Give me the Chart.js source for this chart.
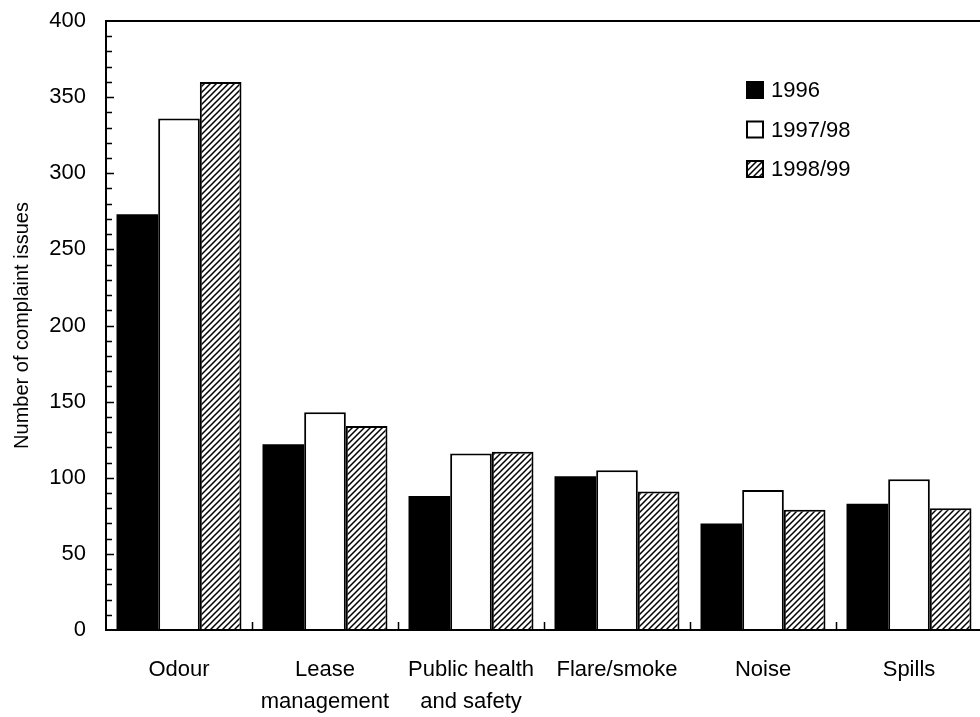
<!DOCTYPE html>
<html>
<head>
<meta charset="utf-8">
<script src="https://cdn.jsdelivr.net/npm/chart.js@4.4.1/dist/chart.umd.min.js"></script>
<style>
  html, body { margin: 0; padding: 0; background: #fff; overflow: hidden; }
  canvas { display: block; }
</style>
</head>
<body>
<canvas id="complaintChart" width="990" height="717"></canvas>
<script>
// complaint issues by type
const categories = [['Odour'], ['Lease', 'management'], ['Public health', 'and safety'], ['Flare/smoke'], ['Noise'], ['Spills']];
const seriesNames = ['1996', '1997/98', '1998/99'];
const values1996 = [273, 122, 88, 101, 70, 83];
const values1997 = [336, 143, 116, 105, 92, 99];
const values1998 = [360, 134, 117, 91, 79, 80];
const yMin = 0;
const yMax = 400;
const yLabelStep = 50;
const yMinorStep = 10;

function makeHatch() {
    const c = document.createElement('canvas');
    c.width = 6;
    c.height = 6;
    const g = c.getContext('2d');
    g.fillStyle = '#fff';
    g.fillRect(0, 0, 6, 6);
    g.strokeStyle = '#000';
    g.lineWidth = 1.5;
    g.beginPath();
    g.moveTo(0, 6); g.lineTo(6, 0);
    g.moveTo(-1, 1); g.lineTo(1, -1);
    g.moveTo(5, 7); g.lineTo(7, 5);
    g.stroke();
    return g.createPattern(c, 'repeat');
}

const hatch = makeHatch();

// box round the plot plus the inward tick marks
const framePlugin = {
    id: 'frame',
    afterDraw(chart) {
        const ctx = chart.ctx;
        const area = chart.chartArea;
        const y = chart.scales.y;
        const x = chart.scales.x;
        ctx.save();
        ctx.strokeStyle = '#000';
        ctx.lineWidth = 2;
        ctx.strokeRect(area.left, area.top, area.right - area.left, area.bottom - area.top);

        ctx.lineWidth = 1.5;
        ctx.beginPath();
        for (let v = yMin + yMinorStep; v < yMax; v += yMinorStep) {
            const py = Math.round(y.getPixelForValue(v)) + 0.5;
            const len = v % yLabelStep === 0 ? 8 : 6;
            ctx.moveTo(area.left, py);
            ctx.lineTo(area.left + len, py);
        }
        for (let i = 1; i < categories.length; i++) {
            const px = Math.round((x.getPixelForValue(i - 1) + x.getPixelForValue(i)) / 2) + 0.5;
            ctx.moveTo(px, area.bottom);
            ctx.lineTo(px, area.bottom - 8);
        }
        ctx.stroke();
        ctx.restore();
    }
};

// legend inside the plot, top right
const legendPlugin = {
    id: 'boxLegend',
    afterDraw(chart) {
        const ctx = chart.ctx;
        ctx.save();
        ctx.font = '22px "Liberation Sans", Arial, sans-serif';
        ctx.textBaseline = 'middle';
        chart.data.datasets.forEach((ds, i) => {
            const cy = 90 + i * 39.5;
            ctx.fillStyle = ds.backgroundColor;
            ctx.fillRect(747, cy - 8, 16, 16);
            ctx.strokeStyle = '#000';
            ctx.lineWidth = 2;
            ctx.strokeRect(747, cy - 8, 16, 16);
            ctx.fillStyle = '#000';
            ctx.fillText(ds.label, 771, cy + 1);
        });
        ctx.restore();
    }
};

Chart.defaults.font.family = '"Liberation Sans", Arial, sans-serif';
Chart.defaults.color = '#000';

const ctx = document.getElementById('complaintChart').getContext('2d');
new Chart(ctx, {
    type: 'bar',
    data: {
        labels: categories,
        datasets: [
            { label: seriesNames[0], data: values1996, backgroundColor: '#000', borderColor: '#000', borderWidth: 0 },
            { label: seriesNames[1], data: values1997, backgroundColor: '#fff', borderColor: '#000', borderWidth: 2 },
            { label: seriesNames[2], data: values1998, backgroundColor: hatch, borderColor: '#000', borderWidth: 2 }
        ]
    },
    options: {
        responsive: false,
        animation: false,
        layout: { padding: { top: 21, right: 8, left: 0, bottom: 0 } },
        datasets: {
            bar: { categoryPercentage: 0.856, barPercentage: 1.0, borderSkipped: 'start' }
        },
        plugins: {
            legend: { display: false },
            tooltip: { enabled: false }
        },
        scales: {
            x: {
                grid: { display: false, drawTicks: false },
                border: { display: false },
                ticks: {
                    font: { size: 22, lineHeight: 1.45 },
                    padding: 24,
                    maxRotation: 0,
                    autoSkip: false
                },
                afterFit(scale) {
                    scale.height = 87;
                    scale.paddingLeft = 0;
                    scale.paddingRight = 0;
                }
            },
            y: {
                min: yMin,
                max: yMax,
                grid: { display: false, drawTicks: false },
                border: { display: false },
                ticks: {
                    stepSize: yMinorStep,
                    autoSkip: false,
                    padding: 20,
                    font: { size: 22 },
                    callback: v => (v % yLabelStep === 0 ? v : '')
                },
                title: {
                    display: true,
                    text: 'Number of complaint issues',
                    font: { size: 20 },
                    padding: { top: 10, bottom: 0 }
                },
                afterFit(scale) {
                    scale.width = 106;
                    scale.paddingTop = 0;
                    scale.paddingBottom = 0;
                }
            }
        }
    },
    plugins: [framePlugin, legendPlugin]
});
</script>
</body>
</html>
